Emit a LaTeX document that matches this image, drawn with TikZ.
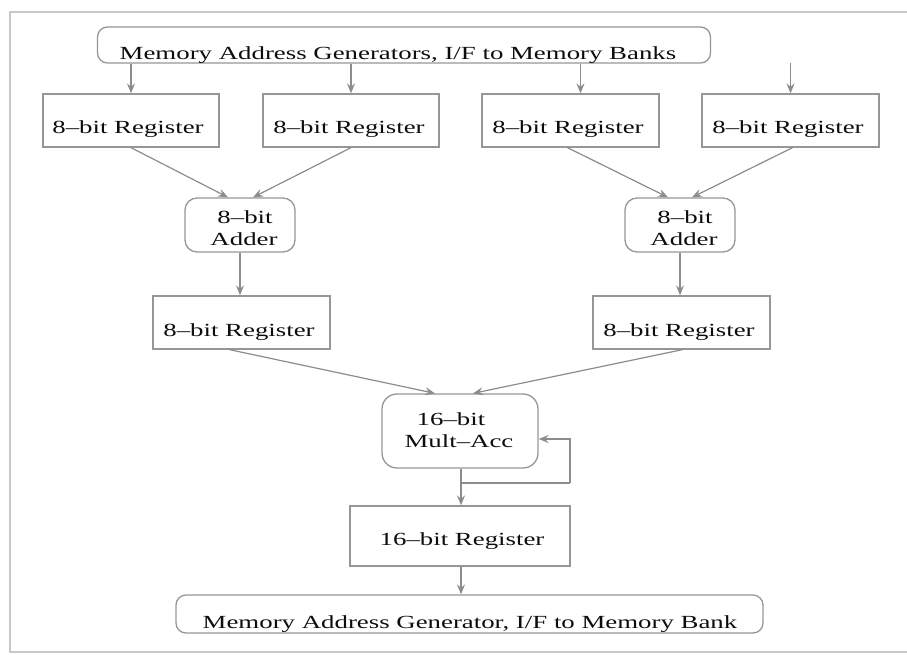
\documentclass[tikz,border=0pt]{standalone}
\usepackage{fontspec}
\setmainfont[FakeStretch=1.45]{Liberation Serif}
\usetikzlibrary{arrows.meta,calc}
\definecolor{wiregray}{RGB}{140,140,140}
\definecolor{edgegray}{RGB}{150,150,150}
\definecolor{framegray}{RGB}{200,200,200}
\begin{document}
\begin{tikzpicture}[x=1pt,y=-1pt,
  blk/.style={draw=edgegray,line width=1.3pt,rectangle,inner sep=0pt},
  rblk/.style={blk,rounded corners=#1},
  lbl/.style={font=\fontsize{18.5}{22}\selectfont,inner sep=0pt,anchor=base,text=black!95},
  arr/.style={draw=wiregray,line width=1.2pt,-{Stealth[length=10pt,width=8pt,inset=3.5pt]}},
  wireline/.style={draw=wiregray,line width=1.2pt}]
\useasboundingbox (0,0) rectangle (907,655);

% page frame (open on the right)
\draw[draw=framegray,line width=2pt] (907,12) -- (10,12) -- (10,652) -- (907,652);

% memory interface, top
\node[rblk=10pt,minimum width=613pt,minimum height=36pt] (mag) at (404,45) {};
\node[lbl] (magt) at (398,60) {Memory Address Generators, I/F to Memory Banks};

% input registers
\node[blk,minimum width=176pt,minimum height=53pt] (reg1) at (131,120.5) {};
\node[blk,minimum width=176pt,minimum height=53pt] (reg2) at (351,120.5) {};
\node[blk,minimum width=177pt,minimum height=53pt] (reg3) at (570.5,120.5) {};
\node[blk,minimum width=177pt,minimum height=53pt] (reg4) at (790.5,120.5) {};
\node[lbl] (reg1t) at (128,134) {8--bit Register};
\node[lbl] (reg2t) at (349,134) {8--bit Register};
\node[lbl] (reg3t) at (568,134) {8--bit Register};
\node[lbl] (reg4t) at (788,134) {8--bit Register};

\coordinate (r3in) at ([xshift=10pt]reg3.north);
\coordinate (feed4) at (791,63);
\draw[arr] (mag.south -| reg1.north) -- (reg1.north);
\draw[arr] (mag.south -| reg2.north) -- (reg2.north);
\draw[arr] (mag.south -| r3in) -- (r3in);
\draw[arr] (reg4.north |- feed4) -- (reg4.north);

% adders
\node[rblk=12pt,minimum width=110pt,minimum height=54pt] (add1) at (240,225) {};
\node[rblk=12pt,minimum width=110pt,minimum height=54pt] (add2) at (680,225) {};
\node[lbl] (add1a) at (245,223) {8--bit};
\node[lbl] (add1b) at (244,245) {Adder};
\node[lbl] (add2a) at (685,223) {8--bit};
\node[lbl] (add2b) at (684,245) {Adder};

\draw[arr] (reg1.south) -- ([xshift=-12pt]add1.north);
\draw[arr] (reg2.south) -- ([xshift=13pt]add1.north);
\draw[arr] ([xshift=-3pt]reg3.south) -- ([xshift=-12pt]add2.north);
\draw[arr] ([xshift=2pt]reg4.south) -- ([xshift=12pt]add2.north);

% adder output registers
\node[blk,minimum width=177pt,minimum height=53pt] (reg5) at (241.5,322.5) {};
\node[blk,minimum width=177pt,minimum height=53pt] (reg6) at (681.5,322.5) {};
\node[lbl] (reg5t) at (239,336) {8--bit Register};
\node[lbl] (reg6t) at (679,336) {8--bit Register};

\draw[arr] (add1.south) -- (add1.south |- reg5.north);
\draw[arr] (add2.south) -- (add2.south |- reg6.north);

% multiply-accumulate
\node[rblk=15pt,minimum width=156pt,minimum height=74pt] (mac) at (460,431) {};
\node[lbl] (maca) at (451,425) {16--bit};
\node[lbl] (macb) at (459,447) {Mult--Acc};

\draw[arr] ([xshift=-12pt]reg5.south) -- ([xshift=-25pt]mac.north);
\draw[arr] ([xshift=1pt]reg6.south) -- ([xshift=13pt]mac.north);

% accumulator feedback loop
\coordinate (fbj) at (461,483);
\coordinate (fbr) at (570,483);
\coordinate (fbt) at (570,439);
\draw[wireline] (fbj) -- (fbr);
\draw[arr] (fbr) -- (fbt) -- (mac.east |- fbt);

% result register and output interface
\node[blk,minimum width=220pt,minimum height=60pt] (reg7) at (460,536) {};
\node[lbl] (reg7t) at (462,545) {16--bit Register};
\draw[arr] (mac.south -| fbj) -- (reg7.north -| fbj);

\node[rblk=10pt,minimum width=587pt,minimum height=38pt] (bot) at (469.5,614) {};
\node[lbl] (bott) at (470,628) {Memory Address Generator, I/F to Memory Bank};
\draw[arr] (reg7.south -| fbj) -- (bot.north -| fbj);
\end{tikzpicture}
\end{document}
